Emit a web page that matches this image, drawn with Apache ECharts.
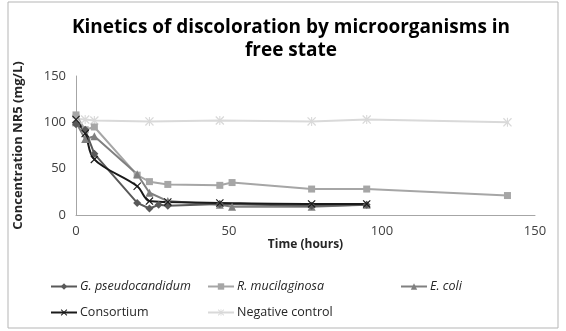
<!DOCTYPE html>
<html>
<head>
<meta charset="utf-8">
<script src="https://cdn.jsdelivr.net/npm/echarts@6/dist/echarts.min.js"></script>
<style>
  html, body { margin: 0; padding: 0; background: #fff; }
  #chart { width: 566px; height: 331px; }
</style>
</head>
<body>
<div id="chart"></div>
<script>
// time (hours) and concentration NR5 (mg/L) per series
const gTime = [0, 3, 6, 20, 24, 27, 30, 47, 77, 95]
const gConc = [98, 92, 66, 13, 7, 11, 10, 12, 10, 11]
const rTime = [0, 3, 6, 20, 24, 30, 47, 51, 77, 95, 141]
const rConc = [108, 92, 95, 43, 36, 33, 32, 35, 28, 28, 21]
const eTime = [0, 3, 6, 20, 24, 30, 47, 51, 77, 95]
const eConc = [100, 82, 85, 44, 24, 15, 11, 9, 9, 11]
const cTime = [0, 3, 6, 20, 24, 30, 47, 77, 95]
const cConc = [103, 88, 60, 31, 15, 14, 13, 12, 12]
const nTime = [0, 3, 6, 24, 47, 77, 95, 141]
const nConc = [104, 103, 102, 101, 102, 101, 103, 100]
const xTicks = [0, 50, 100, 150]
const yTicks = [0, 50, 100, 150]

const names = ['G. pseudocandidum', 'R. mucilaginosa', 'E. coli', 'Consortium', 'Negative control']

const pair = (xs, ys) => xs.map((x, i) => [x, ys[i]])

// x and asterisk markers built as filled shapes
const crossPath = 'path://M0,1L1,0L5,4L9,0L10,1L6,5L10,9L9,10L5,6L1,10L0,9L4,5Z'
const starPath = 'path://M0,1L1,0L4.4,3.4L4.4,0L5.6,0L5.6,3.4L9,0L10,1L6.6,4.4L6.6,5.6L10,9L9,10L5.6,6.6L5.6,10L4.4,10L4.4,6.6L1,10L0,9L3.4,5.6L3.4,4.4Z'

const chart = echarts.init(document.getElementById('chart'))

function lineSeries(name, data, color, symbol, size, extra) {
  return Object.assign({
    name: name,
    type: 'line',
    data: data,
    symbol: symbol,
    symbolSize: size,
    lineStyle: { color: color, width: 2 },
    itemStyle: { color: color },
    emphasis: { disabled: true }
  }, extra || {})
}

function legendAt(name, left, top, italic) {
  return {
    data: [name],
    left: left,
    top: top,
    itemWidth: 26,
    itemHeight: 8,
    itemGap: 4,
    textStyle: {
      fontFamily: 'Open Sans',
      fontSize: 12.5,
      color: '#262626',
      fontStyle: italic ? 'italic' : 'normal',
      padding: [0, 0, 0, -2]
    }
  }
}

const option = {
  animation: false,
  graphic: [{
    type: 'rect',
    shape: { x: 8, y: 2, width: 550, height: 326 },
    style: { fill: 'none', stroke: '#b5b5b5', lineWidth: 1 },
    silent: true
  }],
  title: {
    text: 'Kinetics of discoloration by microorganisms in\nfree state',
    left: 286,
    textAlign: 'center',
    top: 11,
    textStyle: {
      fontFamily: 'Open Sans',
      fontSize: 19,
      fontWeight: 'bold',
      color: '#000',
      lineHeight: 23
    }
  },
  legend: [
    legendAt(names[0], 45, 275, true),
    legendAt(names[1], 202, 275, true),
    legendAt(names[2], 395, 275, true),
    legendAt(names[3], 45, 301, false),
    legendAt(names[4], 202, 301, false)
  ],
  grid: { left: 76, right: 31, top: 76, bottom: 116 },
  xAxis: {
    type: 'value',
    min: xTicks[0],
    max: xTicks[xTicks.length - 1],
    interval: 50,
    name: 'Time (hours)',
    nameLocation: 'middle',
    nameGap: 22,
    nameTextStyle: { fontFamily: 'Open Sans', fontSize: 12, fontWeight: 'bold', color: '#262626' },
    axisLine: { lineStyle: { color: '#a6a6a6' } },
    axisTick: { show: false },
    axisLabel: { color: '#404040', fontFamily: 'Open Sans', fontSize: 13, margin: 10 },
    splitLine: { show: false }
  },
  yAxis: {
    type: 'value',
    min: yTicks[0],
    max: yTicks[yTicks.length - 1],
    interval: 50,
    name: 'Concentration NR5 (mg/L)',
    nameLocation: 'middle',
    nameGap: 51,
    nameTextStyle: { fontFamily: 'Open Sans', fontSize: 13, fontWeight: 'bold', color: '#262626' },
    axisLine: { show: true, lineStyle: { color: '#a6a6a6' } },
    axisTick: { show: false },
    axisLabel: { color: '#404040', fontFamily: 'Open Sans', fontSize: 13, margin: 10 },
    splitLine: { show: false }
  },
  series: [
    lineSeries(names[4], pair(nTime, nConc), '#d9d9d9', starPath, 9),
    lineSeries(names[1], pair(rTime, rConc), '#a6a6a6', 'rect', 7),
    lineSeries(names[2], pair(eTime, eConc), '#808080', 'triangle', 8),
    lineSeries(names[0], pair(gTime, gConc), '#595959', 'diamond', 8),
    lineSeries(names[3], pair(cTime, cConc), '#1a1a1a', crossPath, 8, { smooth: 0.35 })
  ]
}

chart.setOption(option)
</script>
</body>
</html>
